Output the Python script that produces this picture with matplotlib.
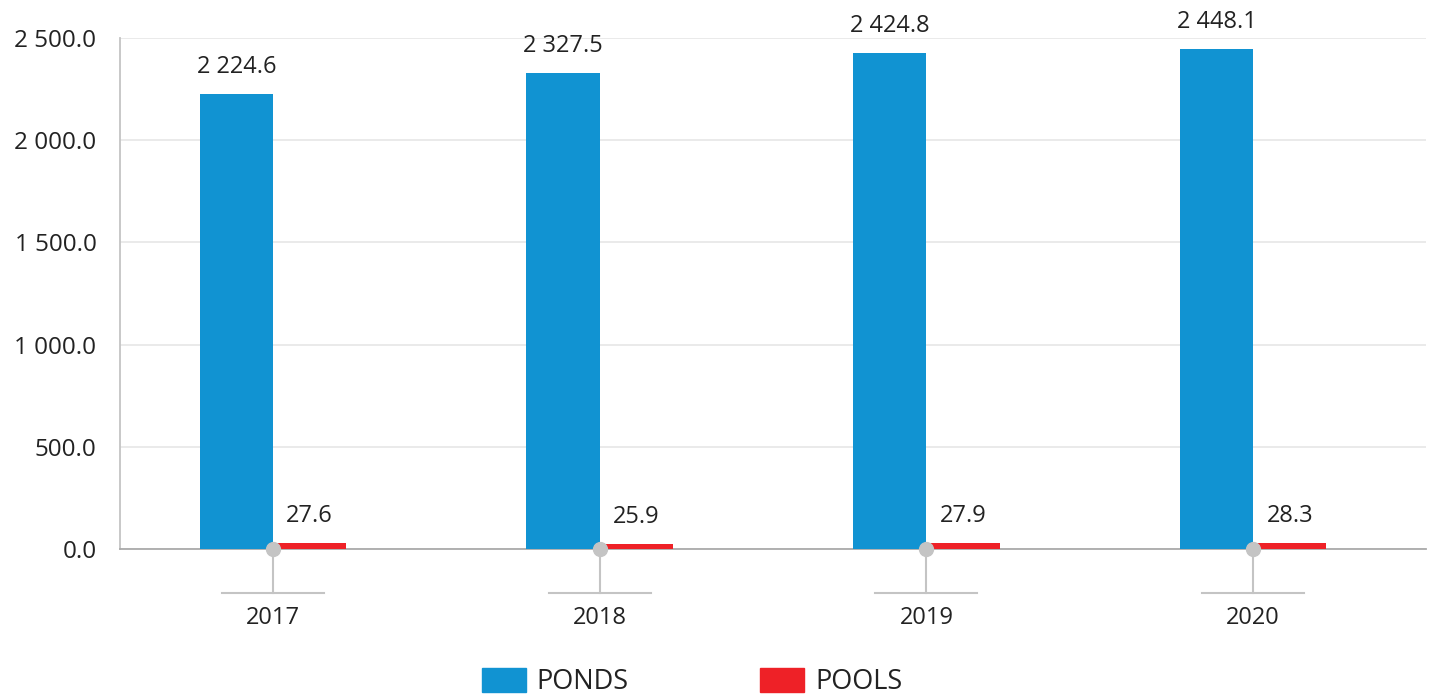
import numpy as np
import matplotlib.pyplot as plt
from matplotlib.patches import Patch
from matplotlib.ticker import FuncFormatter

plt.rcParams['font.family'] = ['Open Sans', 'DejaVu Sans']

years = ['2017', '2018', '2019', '2020']
ponds = [2224.6, 2327.5, 2424.8, 2448.1]
pools = [27.6, 25.9, 27.9, 28.3]

blue = '#1193D2'
red = '#EE2127'
txt = '#222222'
axis_gray = '#C4C4C4'


def fmt(v, pos=None):
    s = '{:,.1f}'.format(v)
    return s.replace(',', ' ')


fig = plt.figure(figsize=(14.34, 6.95), dpi=100)
ax = fig.add_axes([0.0837, 0.2101, 0.9107, 0.7352])

x = np.arange(len(years))
w = 0.224

b1 = ax.bar(x - w / 2, ponds, w, color=blue, zorder=3)
b2 = ax.bar(x + w / 2, pools, w, color=red, zorder=3)

for rect, v in zip(list(b1) + list(b2), ponds + pools):
    ax.annotate(fmt(v), (rect.get_x() + rect.get_width() / 2, rect.get_height()),
                xytext=(0, 19.5), textcoords='offset points',
                ha='center', va='center', fontsize=17, color=txt)

ax.set_xlim(-0.468, 3.529)
ax.set_ylim(0, 2500)
ax.set_yticks(np.arange(0, 2501, 500))
ax.yaxis.set_major_formatter(FuncFormatter(fmt))
ax.grid(axis='y', color='#E6E6E6', linewidth=1.2, zorder=0)

for s in ['top', 'right']:
    ax.spines[s].set_visible(False)
ax.spines['left'].set_color(axis_gray)
ax.spines['bottom'].set_color('#AAAAAA')
ax.spines['left'].set_linewidth(1.3)
ax.spines['bottom'].set_linewidth(1.3)

ax.tick_params(axis='y', length=0, pad=17, labelsize=17.5, labelcolor=txt)
ax.set_xticks(x)
ax.set_xticklabels(years)
ax.tick_params(axis='x', length=0, pad=41, labelsize=17, labelcolor=txt)

# tick decorations under each year
for xi in x:
    ax.plot([xi, xi], [0, -215], color=axis_gray, lw=1.5, clip_on=False, zorder=4)
    ax.plot([xi - 0.156, xi + 0.156], [-215, -215], color=axis_gray, lw=1.5, clip_on=False, zorder=4)
    ax.plot([xi], [0], 'o', ms=10, color='#C4C4C4', clip_on=False, zorder=5)

handles = [Patch(color=blue, label='PONDS'), Patch(color=red, label='POOLS')]
leg = fig.legend(handles=handles, loc='center', bbox_to_anchor=(0.4826, 0.019), ncol=2,
                 frameon=False, fontsize=19.5, handlelength=1.63, handleheight=1.0,
                 handletextpad=0.4, columnspacing=4.85, borderpad=0)
for t in leg.get_texts():
    t.set_color(txt)

fig.savefig('out.png', dpi=100)
